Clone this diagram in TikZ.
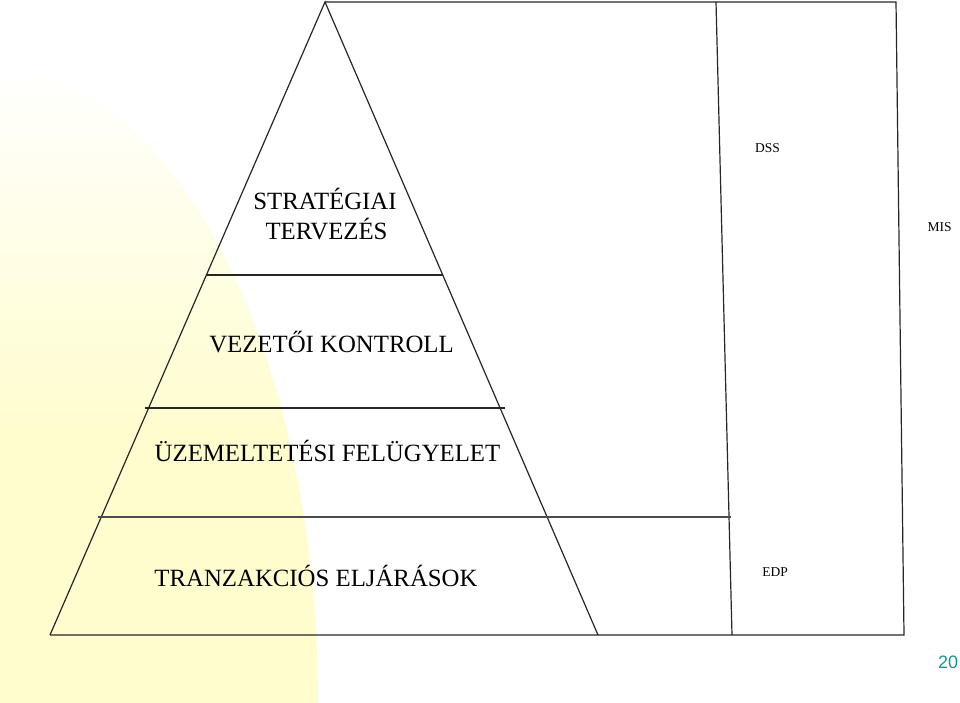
\documentclass[tikz,border=0pt]{standalone}
\usepackage{fontspec}
\setmainfont{Liberation Serif}
\newfontfamily\pagefont{Liberation Sans}
\definecolor{bgyellow}{RGB}{255,253,206}
\definecolor{pageteal}{RGB}{20,150,150}
\tikzset{
  level/.style={font=\fontsize{24.8}{30}\selectfont, anchor=base, inner sep=0pt},
  tier/.style={font=\fontsize{13.5}{16}\selectfont, anchor=base, inner sep=0pt},
  frame/.style={line width=1.2pt, black!85},
}

\begin{document}
\begin{tikzpicture}[x=1pt,y=-1pt]
\useasboundingbox (0,0) rectangle (960,703);
% background glow
\begin{scope}
  \clip (0,703) ellipse [x radius=318, y radius=630];
  \fill[bgyellow] (0,0) rectangle (330,703);
  \shade[top color=white, bottom color=bgyellow] (0,60) rectangle (330,430);
\end{scope}
% corners
\coordinate (apex) at (325,2);
\coordinate (baseL) at (50,635);
\coordinate (baseR) at (598,635);
\coordinate (topR) at (896,2);
\coordinate (divT) at (716,2);
\coordinate (divB) at (732,635);
\coordinate (cornerR) at (904,635);
% pyramid and columns
\draw[frame] (baseL) -- (apex) -- (baseR);
\draw[frame] (apex) -- (topR) -- (cornerR) -- (baseL);
\draw[frame] (divT) -- (divB);
\draw[frame] (206,275) -- (443,275);
\draw[frame] (145,408) -- (505,408);
\draw[frame, line width=1.6pt, black!70] (98,517) -- (731,517);
% levels
\node[level] (strat) at (325,210) {STRATÉGIAI};
\node[level] (terv) at (326.5,240) {TERVEZÉS};
\node[level] (vez) at (331.5,352) {VEZETŐI KONTROLL};
\node[level] (uzem) at (327.5,461.5) {ÜZEMELTETÉSI FELÜGYELET};
\node[level] (tranz) at (316,586) {TRANZAKCIÓS ELJÁRÁSOK};
% systems
\node[tier] (dss) at (767.5,153) {DSS};
\node[tier] (mis) at (939.5,232) {MIS};
\node[tier] (edp) at (775,576) {EDP};
\node[font=\pagefont\fontsize{18}{20}\selectfont, text=pageteal, anchor=base, inner sep=0pt] (page) at (948,668) {20};
\end{tikzpicture}
\end{document}
